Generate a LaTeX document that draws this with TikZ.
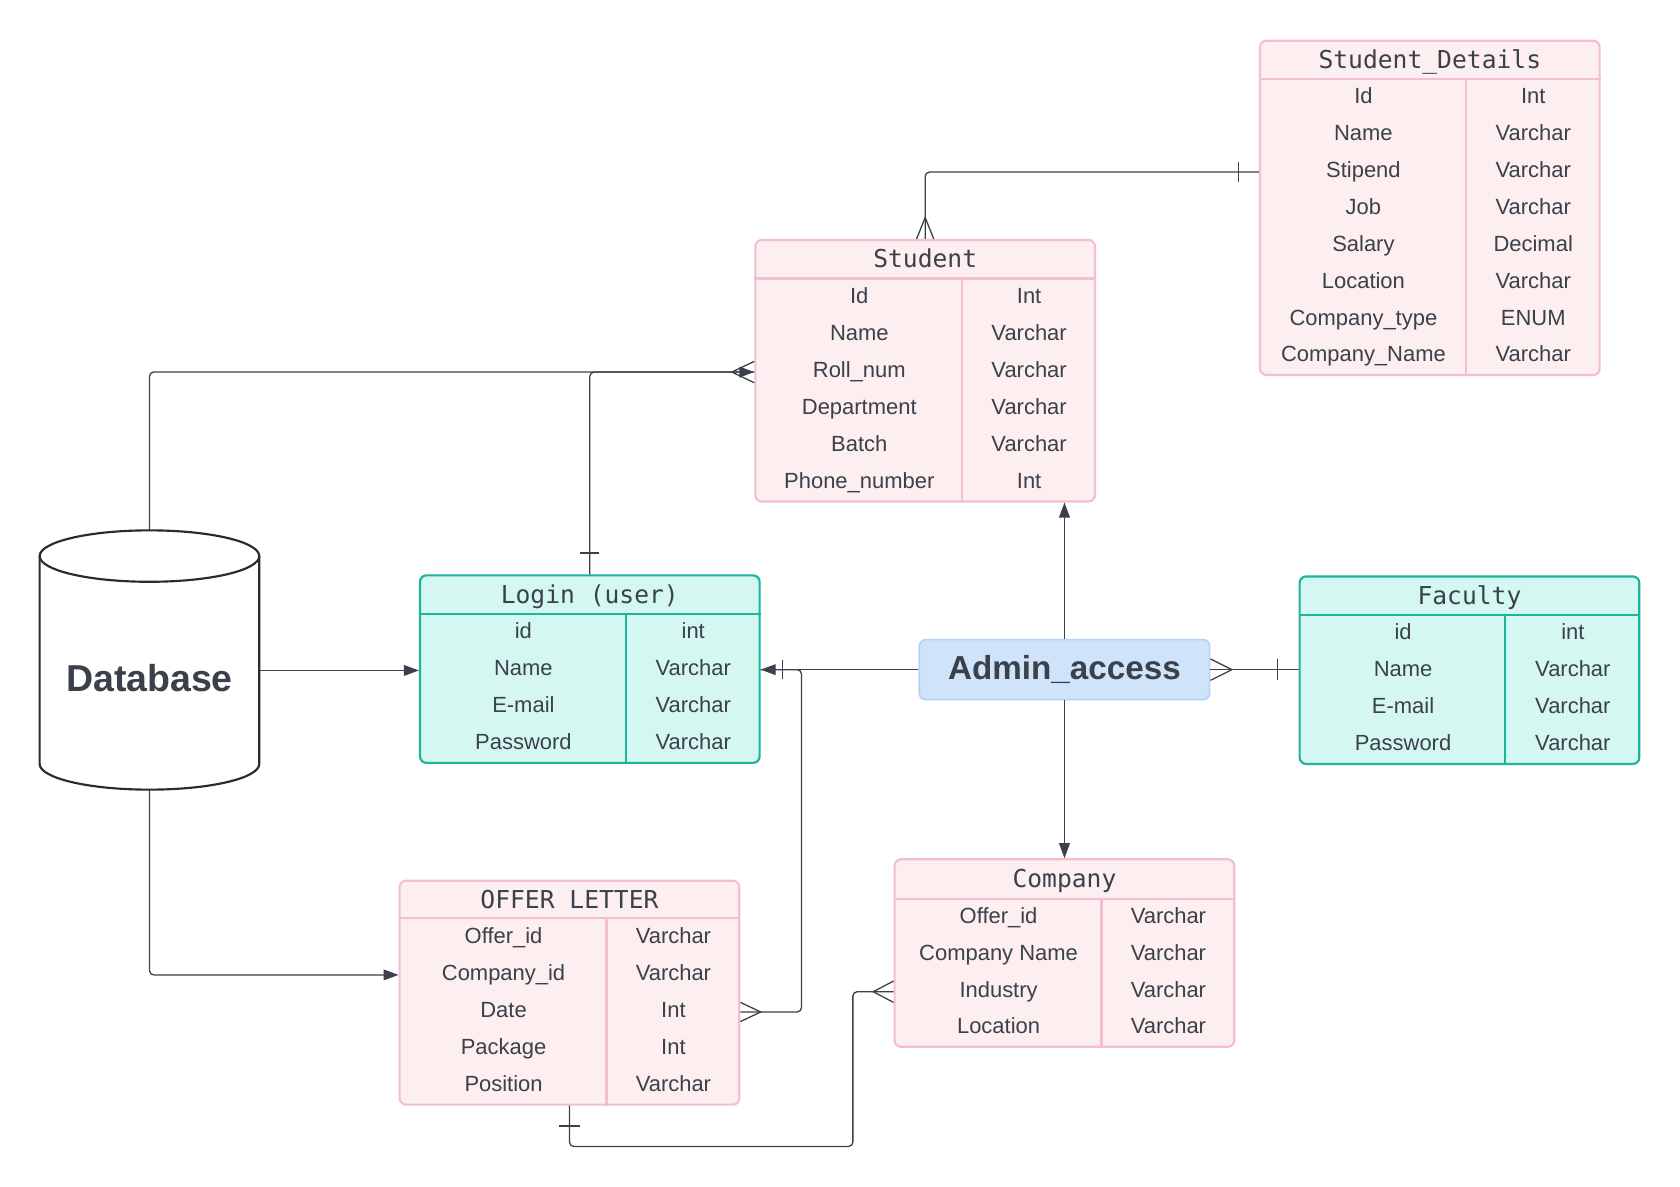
\documentclass[tikz,border=0pt]{standalone}
\usepackage{fontspec}
\setmainfont{Liberation Sans}
\newfontfamily\headfont{DejaVu Sans Mono}
\usepackage{tikz}
\usetikzlibrary{positioning,calc,arrows.meta}
\definecolor{pinkfill}{HTML}{FDEEF0}
\definecolor{pinkline}{HTML}{F4BED2}
\definecolor{tealfill}{HTML}{D5F7F1}
\definecolor{tealline}{HTML}{1DB39D}
\definecolor{adminfill}{HTML}{CFE4FB}
\definecolor{adminline}{HTML}{B3D3F4}
\definecolor{inkgray}{HTML}{3A414A}
\definecolor{dbline}{HTML}{2B2B2B}

\begin{document}
\begin{tikzpicture}[x=1pt, y=-1pt,
  pinkbox/.style={draw=pinkline, fill=pinkfill, line width=2pt, shape=rectangle, rounded corners=6pt, minimum width=317pt, inner sep=0},
  tealbox/.style={draw=tealline, fill=tealfill, line width=2pt, shape=rectangle, rounded corners=6pt, minimum width=317pt, inner sep=0},
  pinkrule/.style={draw=pinkline, line width=2pt},
  tealrule/.style={draw=tealline, line width=2pt},
  tabletitle/.style={text=inkgray, font=\headfont\fontsize{23}{26}\selectfont, inner sep=0, text height=17pt, text depth=2pt},
  cell/.style={text=inkgray, font=\fontsize{20.5}{24}\selectfont, inner sep=0, text height=15pt, text depth=5pt},
  conn/.style={draw=inkgray, line width=1.2pt},
  connarrow/.style={-{Triangle[length=14pt, width=10pt]}},
]
\fill[white] (0,0) rectangle (1568,1107);
\useasboundingbox (0,0) rectangle (1568,1107);

% Student_Details
\path (1334.5, 194) node[pinkbox, minimum height=312pt] (det) {};
\draw[pinkrule] ($(det.north west)+(0,36.5)$) -- ($(det.north east)+(0,36.5)$);
\draw[pinkrule] ($(det.north west)+(193,36.5)$) -- ($(det.south west)+(193,0)$);
\path (1334.5, 56.5) node[tabletitle] (dettitle) {Student\_Details};
\path (1272.5, 91.7) node[cell] (detid) {Id} (1431, 91.7) node[cell] (detidtype) {Int};
\path (1272.5, 126.2) node[cell] (detname) {Name} (1431, 126.2) node[cell] (detnametype) {Varchar};
\path (1272.5, 160.6) node[cell] (detstip) {Stipend} (1431, 160.6) node[cell] (detstiptype) {Varchar};
\path (1272.5, 195) node[cell] (detjob) {Job} (1431, 195) node[cell] (detjobtype) {Varchar};
\path (1272.5, 229.5) node[cell] (detsal) {Salary} (1431, 229.5) node[cell] (detsaltype) {Decimal};
\path (1272.5, 263.9) node[cell] (detloc) {Location} (1431, 263.9) node[cell] (detloctype) {Varchar};
\path (1272.5, 298.4) node[cell] (detctype) {Company\_type} (1431, 298.4) node[cell] (detctypetype) {ENUM};
\path (1272.5, 332.8) node[cell] (detcname) {Company\_Name} (1431, 332.8) node[cell] (detcnametype) {Varchar};

% Student
\path (863.5, 346) node[pinkbox, minimum height=244pt] (stu) {};
\draw[pinkrule] ($(stu.north west)+(0,37)$) -- ($(stu.north east)+(0,37)$);
\draw[pinkrule] ($(stu.north west)+(194,37)$) -- ($(stu.south west)+(194,0)$);
\path (863.5, 242.5) node[tabletitle] (stutitle) {Student};
\path (802, 278.25) node[cell] (stuid) {Id} (960.5, 278.25) node[cell] (stuidtype) {Int};
\path (802, 312.75) node[cell] (stuname) {Name} (960.5, 312.75) node[cell] (stunametype) {Varchar};
\path (802, 347.25) node[cell] (sturoll) {Roll\_num} (960.5, 347.25) node[cell] (sturolltype) {Varchar};
\path (802, 381.75) node[cell] (studept) {Department} (960.5, 381.75) node[cell] (studepttype) {Varchar};
\path (802, 416.25) node[cell] (stubatch) {Batch} (960.5, 416.25) node[cell] (stubatchtype) {Varchar};
\path (802, 450.75) node[cell] (stuphone) {Phone\_number} (960.5, 450.75) node[cell] (stuphonetype) {Int};

% Login (user)
\path (550.5, 624.5) node[tealbox, minimum height=175pt] (login) {};
\draw[tealrule] ($(login.north west)+(0,37)$) -- ($(login.north east)+(0,37)$);
\draw[tealrule] ($(login.north west)+(193,37)$) -- ($(login.south west)+(193,0)$);
\path (550.5, 555.5) node[tabletitle] (logintitle) {Login (user)};
\path (488.5, 591.25) node[cell] (logid) {id} (647, 591.25) node[cell] (logidtype) {int};
\path (488.5, 625.75) node[cell] (logname) {Name} (647, 625.75) node[cell] (lognametype) {Varchar};
\path (488.5, 660.25) node[cell] (logmail) {E-mail} (647, 660.25) node[cell] (logmailtype) {Varchar};
\path (488.5, 694.75) node[cell] (logpass) {Password} (647, 694.75) node[cell] (logpasstype) {Varchar};

% Faculty
\path (1371.5, 625.5) node[tealbox, minimum height=175pt] (fac) {};
\draw[tealrule] ($(fac.north west)+(0,37)$) -- ($(fac.north east)+(0,37)$);
\draw[tealrule] ($(fac.north west)+(193,37)$) -- ($(fac.south west)+(193,0)$);
\path (1371.5, 556.5) node[tabletitle] (factitle) {Faculty};
\path (1309.5, 592.25) node[cell] (facid) {id} (1468, 592.25) node[cell] (facidtype) {int};
\path (1309.5, 626.75) node[cell] (facname) {Name} (1468, 626.75) node[cell] (facnametype) {Varchar};
\path (1309.5, 661.25) node[cell] (facmail) {E-mail} (1468, 661.25) node[cell] (facmailtype) {Varchar};
\path (1309.5, 695.75) node[cell] (facpass) {Password} (1468, 695.75) node[cell] (facpasstype) {Varchar};

% OFFER LETTER
\path (531.5, 926.5) node[pinkbox, minimum height=209pt] (off) {};
\draw[pinkrule] ($(off.north west)+(0,36)$) -- ($(off.north east)+(0,36)$);
\draw[pinkrule] ($(off.north west)+(194,36)$) -- ($(off.south west)+(194,0)$);
\path (531.5, 840) node[tabletitle] (offtitle) {OFFER LETTER};
\path (470, 875.3) node[cell] (offid) {Offer\_id} (628.5, 875.3) node[cell] (offidtype) {Varchar};
\path (470, 909.9) node[cell] (offcid) {Company\_id} (628.5, 909.9) node[cell] (offcidtype) {Varchar};
\path (470, 944.5) node[cell] (offdate) {Date} (628.5, 944.5) node[cell] (offdatetype) {Int};
\path (470, 979.1) node[cell] (offpack) {Package} (628.5, 979.1) node[cell] (offpacktype) {Int};
\path (470, 1013.7) node[cell] (offpos) {Position} (628.5, 1013.7) node[cell] (offpostype) {Varchar};

% Company
\path (993.5, 889.5) node[pinkbox, minimum height=175pt] (comp) {};
\draw[pinkrule] ($(comp.north west)+(0,38)$) -- ($(comp.north east)+(0,38)$);
\draw[pinkrule] ($(comp.north west)+(194,38)$) -- ($(comp.south west)+(194,0)$);
\path (993.5, 821) node[tabletitle] (comptitle) {Company};
\path (932, 857.1) node[cell] (compid) {Offer\_id} (1090.5, 857.1) node[cell] (compidtype) {Varchar};
\path (932, 891.4) node[cell] (compname) {Company Name} (1090.5, 891.4) node[cell] (compnametype) {Varchar};
\path (932, 925.6) node[cell] (compind) {Industry} (1090.5, 925.6) node[cell] (compindtype) {Varchar};
\path (932, 959.9) node[cell] (comploc) {Location} (1090.5, 959.9) node[cell] (comploctype) {Varchar};

% Admin_access
\path (993.5, 625) node[draw=adminline, fill=adminfill, line width=1.5pt, shape=rectangle, rounded corners=6pt, minimum width=271pt, minimum height=56pt, text=inkgray, font=\bfseries\fontsize{31}{36}\selectfont] (admin) {Admin\_access};

% Database
\path (139.5, 616) node[minimum width=205pt, minimum height=242pt, inner sep=0] (db) {};
\draw[dbline, line width=2pt] (139.5, 519) ellipse [x radius=102.5, y radius=24];
\draw[dbline, line width=2pt] (37, 519) -- (37, 713) arc[start angle=180, end angle=0, x radius=102.5, y radius=24] -- (242, 519);
\path (139.5, 633) node[text=inkgray, font=\bfseries\fontsize{35}{40}\selectfont] (dbtext) {Database};

% connectors
\draw[conn, connarrow, rounded corners=4pt] (db.north) |- (stu.west |- sturoll);
\draw[conn, rounded corners=4pt] (login.north) |- (stu.west |- sturoll);
\draw[conn] ($(stu.west |- sturoll)+(0,-10)$) -- ++(-21,10) -- ++(21,10);
\draw[conn] ($(login.north)+(-9,-20)$) -- ++(18,0);

\draw[conn, rounded corners=4pt] (stu.north) |- (det.west |- detstip);
\draw[conn] ($(stu.north)+(-8,0)$) -- ++(8,-20) -- ++(8,20);
\draw[conn] ($(det.west |- detstip)+(-19,-9)$) -- ++(0,18);

\draw[conn, connarrow] (db.east |- logname) -- (login.west |- logname);
\draw[conn, connarrow] (admin.west) -- (admin.west -| login.east);
\draw[conn, connarrow] (admin.north) -- (admin.north |- stu.south);
\draw[conn, connarrow] (admin.south) -- (admin.south |- comp.north);

\draw[conn] (admin.east) -- (admin.east -| fac.west);
\draw[conn] ($(admin.east)+(0,-10)$) -- ++(20,10) -- ++(-20,10);
\draw[conn] ($(admin.east -| fac.west)+(-20,-10)$) -- ++(0,20);

\draw[conn, rounded corners=4pt] (off.east |- offdate) -| ($(login.east |- admin.west)+(38,0)$) -- (login.east |- admin.west);
\draw[conn] ($(off.east |- offdate)+(0,-9)$) -- ++(19,9) -- ++(-19,9);
\draw[conn] ($(login.east |- admin.west)+(20,-9)$) -- ++(0,18);

\draw[conn, connarrow, rounded corners=4pt] (db.south) |- (off.west |- offcid);

\draw[conn, rounded corners=4pt] (off.south) |- ($(comp.west |- off.south)+(-38,38)$) |- (comp.west |- compind);
\draw[conn] ($(comp.west |- compind)+(0,-10)$) -- ++(-19,10) -- ++(19,10);
\draw[conn] ($(off.south)+(-10,19)$) -- ++(20,0);
\end{tikzpicture}
\end{document}
